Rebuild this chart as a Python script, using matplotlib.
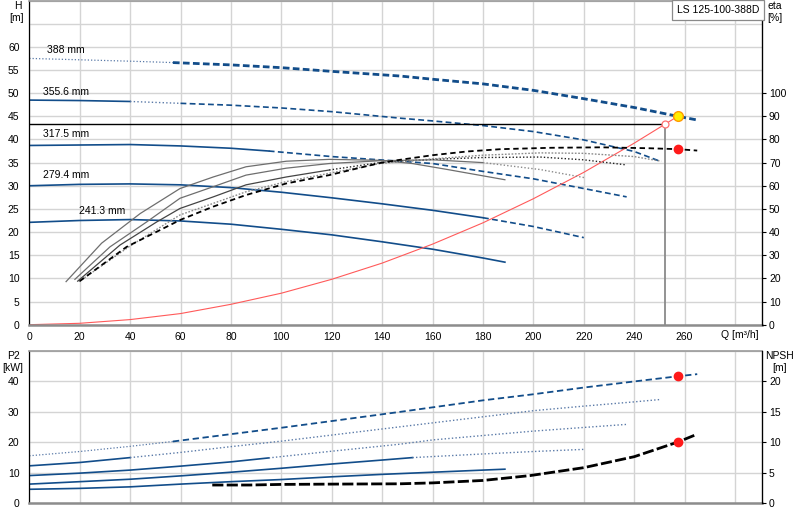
import numpy as np
import matplotlib
matplotlib.use("Agg")
import matplotlib.pyplot as plt

plt.rcParams['font.family'] = ['Liberation Sans', 'DejaVu Sans']
plt.rcParams['font.size'] = 7.5

BLUE = '#124d8a'
GRID = '#d4d4d4'

# Q-H curves per impeller diameter
dia_labels = ['388 mm', '355.6 mm', '317.5 mm', '279.4 mm', '241.3 mm']

q388 = [0, 20, 40, 57, 80, 100, 120, 147, 160, 180, 200, 220, 240, 257.3, 265]
h388 = [57.5, 57.2, 56.9, 56.6, 56.1, 55.5, 54.7, 53.7, 53.0, 52.0, 50.6, 48.8, 46.9, 45.0, 44.2]
q356 = [0, 20, 40, 60, 80, 100, 120, 147, 160, 180, 200, 220, 240, 250.7]
h356 = [48.5, 48.4, 48.2, 47.8, 47.4, 46.8, 46.0, 44.6, 44.0, 43.0, 41.7, 39.9, 37.4, 35.2]
q318 = [0, 20, 40, 60, 80, 95, 120, 147, 160, 180, 200, 220, 237]
h318 = [38.7, 38.8, 38.9, 38.6, 38.1, 37.5, 36.3, 35.3, 34.8, 33.1, 31.5, 29.4, 27.6]
q279 = [0, 20, 40, 60, 80, 100, 120, 140, 160, 180, 200, 220]
h279 = [30.0, 30.3, 30.4, 30.2, 29.6, 28.6, 27.4, 26.1, 24.7, 23.1, 21.2, 18.8]
q241 = [0, 20, 40, 60, 80, 100, 120, 140, 160, 180, 188.7]
h241 = [22.1, 22.5, 22.7, 22.4, 21.7, 20.6, 19.4, 17.9, 16.3, 14.4, 13.5]

# efficiency curves [%]
qe241 = [14.6, 28.7, 44, 59.8, 73, 86, 102, 119, 139, 152, 166, 188.7]
eta241 = [18.6, 35.2, 48.0, 58.8, 63.8, 68.2, 70.6, 71.4, 71.0, 69.6, 67.0, 62.6]
qe279 = [18.1, 32, 46.6, 59.8, 73, 86, 102, 119, 139, 160, 180, 202.7, 220.8]
eta279 = [19.6, 33.6, 44.4, 54.6, 59.6, 64.6, 67.6, 69.6, 70.8, 71.2, 70.0, 67.0, 63.4]
qe318 = [19.2, 36, 50.6, 59.8, 73, 86, 102, 119, 139, 160, 180, 202.7, 220, 237]
eta318 = [18.8, 34.4, 44.4, 50.2, 55.2, 60.4, 63.8, 66.8, 70.0, 71.4, 72.2, 72.4, 71.2, 69.0]
qe356 = [19.7, 40, 59.8, 73, 86, 102, 119, 139, 160, 180, 202.7, 220, 240, 250.7]
eta356 = [18.6, 34.0, 47.4, 52.4, 57.4, 61.8, 65.4, 69.6, 71.6, 73.2, 74.2, 74.0, 72.6, 70.6]
qe388 = [20, 38.6, 59.8, 73, 86, 102, 119, 139, 147, 160, 173.6, 187, 207, 227, 246, 257.3, 265]
eta388 = [18.8, 33.6, 45.2, 51.0, 56.0, 61.0, 64.6, 69.8, 71.2, 73.2, 74.8, 75.8, 76.4, 76.6, 76.2, 75.8, 75.2]

# system curve
q_sys = [0, 20, 40, 60, 80, 100, 120, 140, 160, 180, 200, 220, 240, 257.3]
h_sys = [0, 0.3, 1.1, 2.4, 4.4, 6.8, 9.8, 13.3, 17.4, 22.0, 27.2, 32.9, 39.2, 45.0]

# duty / operating point
q_duty, h_duty = 252.3, 43.3
q_op, h_op, eta_op, p2_op, npsh_op = 257.3, 45.0, 75.7, 41.6, 10.0

# P2 curves [kW]
qp388 = [0, 20, 40, 57, 80, 100, 120, 147, 160, 180, 200, 220, 240, 257.3, 265]
p388 = [15.5, 16.9, 18.6, 20.2, 22.6, 24.7, 26.9, 29.9, 31.4, 33.7, 35.7, 37.9, 39.9, 41.6, 42.3]
qp356 = [0, 20, 40, 60, 80, 100, 120, 147, 160, 200, 220, 240, 250.7]
p356 = [12.2, 13.3, 14.9, 16.6, 18.5, 20.3, 22.3, 25.0, 26.3, 30.3, 31.8, 33.2, 34.0]
qp318 = [0, 20, 40, 60, 80, 95, 120, 147, 160, 200, 220, 237]
p318 = [9.0, 9.8, 10.8, 12.1, 13.5, 14.8, 17.0, 19.3, 20.7, 23.6, 24.8, 25.8]
qp279 = [0, 20, 40, 60, 80, 100, 120, 140, 152, 180, 200, 220]
p279 = [6.2, 7.0, 7.8, 8.9, 10.1, 11.4, 12.8, 14.1, 14.9, 16.1, 16.9, 17.6]
qp241 = [0, 20, 40, 60, 80, 100, 120, 140, 160, 180, 188.7]
p241 = [4.5, 4.8, 5.3, 6.2, 7.0, 7.7, 8.6, 9.4, 10.1, 10.8, 11.1]

# NPSH [m]
q_npsh = [72.6, 87.5, 100, 120, 147, 160, 180, 198.7, 220, 240, 257.3, 265]
npsh = [2.95, 2.95, 3.05, 3.1, 3.15, 3.3, 3.7, 4.5, 5.8, 7.6, 10.0, 11.3]


def seg(ax, q, v, brk, styles):
	q = np.asarray(q, float); v = np.asarray(v, float)
	edges = [q[0]] + brk + [q[-1]]
	for i, st in enumerate(styles):
		m = (q >= edges[i]) & (q <= edges[i+1])
		ax.plot(q[m], v[m], **st)

solid = dict(color=BLUE, lw=1.2, ls='-')
dot = dict(color='#5a7aa8', lw=1.0, ls=(0, (1, 1.6)))
dash_thin = dict(color=BLUE, lw=1.2, ls=(0, (3.5, 2)))
dash_thick = dict(color=BLUE, lw=2.0, ls=(0, (2.4, 1.2)))

fig = plt.figure(figsize=(8, 5.2), dpi=100)
ax = fig.add_axes([0.0366, 0.3756, 0.9159, 0.6234])
axe = ax.twinx()
axp = fig.add_axes([0.0366, 0.0327, 0.9159, 0.2929])
axn = axp.twinx()

for a in (ax, axp):
	a.set_xlim(0, 290.7)
	a.set_xticks(np.arange(0, 290, 20))
	a.grid(True, color=GRID, lw=1.0)
	a.set_axisbelow(True)
	a.spines['left'].set_color('black')
	a.spines['left'].set_linewidth(0.9)
	a.spines['bottom'].set_color('#8c8c8c')
	a.spines['bottom'].set_linewidth(1.8)
	a.spines['top'].set_color('#9a9a9a')
	a.spines['top'].set_linewidth(1.2)
	a.tick_params(axis='y', length=0, pad=7)
	a.tick_params(axis='x', length=0, pad=5)
for a in (axe, axn):
	a.spines['right'].set_color('black')
	a.spines['right'].set_linewidth(0.9)
	for s in ('top', 'bottom', 'left'):
		a.spines[s].set_visible(False)
	a.tick_params(axis='y', length=3, width=0.8, pad=2, direction='out')

ax.set_ylim(0, 70)
ax.set_yticks(np.arange(0, 71, 5))
ax.set_yticklabels([str(v) if v <= 60 else '' for v in range(0, 71, 5)])
axe.set_ylim(0, 140)
axe.set_yticks(np.arange(0, 101, 10))
ax.set_xticklabels([str(v) for v in range(0, 290, 20)][:-1] + [''])

axp.set_ylim(0, 50)
axp.set_yticks(np.arange(0, 41, 10))
axp.set_yticks(np.arange(0, 51, 10), minor=False)
axp.set_yticklabels(['0', '10', '20', '30', '40', ''])
axp.set_xticklabels([])
axn.set_ylim(0, 25)
axn.set_yticks(np.arange(0, 21, 5))

# Q-H curves
seg(ax, q388, h388, [57], [dict(dot, lw=0.9), dash_thick])
seg(ax, q356, h356, [40, 60], [solid, dot, dash_thin])
seg(ax, q318, h318, [95], [solid, dash_thin])
seg(ax, q279, h279, [180], [solid, dash_thin])
seg(ax, q241, h241, [], [solid])

# efficiency curves
axe.plot(qe241, eta241, color='#6e6e6e', lw=0.9)
seg(axe, qe279, eta279, [180], [dict(color='#6e6e6e', lw=0.9), dict(color='#8a8a8a', lw=1.0, ls=(0, (1, 1.5)))])
seg(axe, qe318, eta318, [119], [dict(color='#444444', lw=0.9), dict(color='#222222', lw=1.0, ls=(0, (1, 1.5)))])
axe.plot(qe356, eta356, color='#8a8a8a', lw=1.0, ls=(0, (1.2, 1.2)))
axe.plot(qe388, eta388, color='black', lw=1.3, ls=(0, (3, 2)))

# system curve and duty point
ax.plot(q_sys, h_sys, color='#ff5a5a', lw=0.8)
ax.plot([0, q_duty], [h_duty, h_duty], color='black', lw=1.0)
ax.plot([q_duty, q_duty], [0, h_duty], color='#8a8a8a', lw=1.3)
ax.plot([q_duty], [h_duty], 'o', ms=5, mfc='white', mec='#ff7070', mew=0.9)
ax.plot([q_op], [h_op], 'o', ms=7, mfc='#ffee00', mec='#ff9a00', mew=1.0, zorder=5)
axe.plot([q_op], [eta_op], 'o', ms=6, color='#ff1a1a', zorder=5)

# labels of diameters
lab_pos = [(7, 59.4), (5.4, 50.3), (5.4, 41.1), (5.4, 32.4), (19.8, 24.6)]
for t, (x, y) in zip(dia_labels, lab_pos):
	ax.text(x, y, t, ha='left', va='center', fontsize=7.5)

# P2 curves
seg(axp, qp388, p388, [57], [dict(dot, lw=0.9), dict(color=BLUE, lw=1.3, ls=(0, (3.5, 2)))])
seg(axp, qp356, p356, [40], [solid, dot])
seg(axp, qp318, p318, [95], [solid, dot])
seg(axp, qp279, p279, [152], [solid, dot])
seg(axp, qp241, p241, [], [solid])
axp.plot([q_op], [p2_op], 'o', ms=6, color='#ff1a1a', zorder=5)

# NPSH
axn.plot(q_npsh, npsh, color='black', lw=2.0, ls=(0, (4, 1.2)))
axn.plot([q_op], [npsh_op], 'o', ms=6, color='#ff1a1a', zorder=5)

# axis titles
def px(x, y):
	return x / 800, 1 - y / 520
fig.text(*px(18, 6), 'H', ha='center', va='center')
fig.text(*px(17, 18), '[m]', ha='center', va='center')
fig.text(*px(775, 6), 'eta', ha='center', va='center')
fig.text(*px(775, 18), '[%]', ha='center', va='center')
fig.text(*px(740, 335), 'Q [m³/h]', ha='center', va='center')
fig.text(*px(13, 356), 'P2', ha='center', va='center')
fig.text(*px(13, 368), '[kW]', ha='center', va='center')
fig.text(*px(780, 356), 'NPSH', ha='center', va='center')
fig.text(*px(780, 368), '[m]', ha='center', va='center')
fig.text(*px(718, 10), 'LS 125-100-388D', ha='center', va='center',
	bbox=dict(boxstyle='square,pad=0.45', fc='white', ec='#8a8a8a', lw=0.9))

fig.savefig('out.png', dpi=100)
